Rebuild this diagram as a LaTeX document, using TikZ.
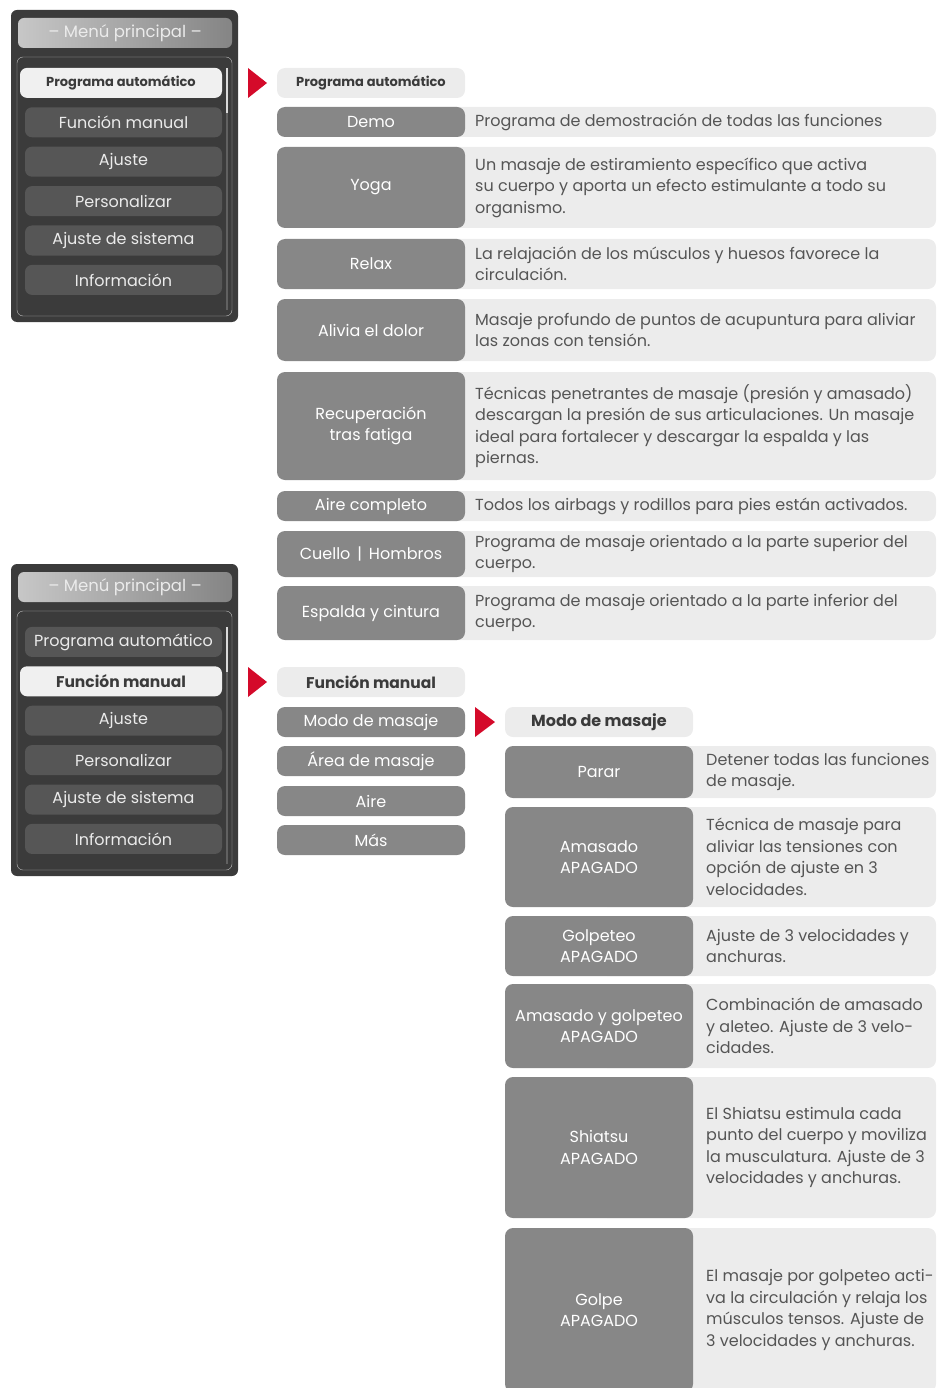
\documentclass[tikz,border=0pt]{standalone}
\usepackage{fontspec}
\setmainfont{Poppins}
\usepackage{xcolor}
\usepackage{tikz}
\usetikzlibrary{calc}
\definecolor{panelgray}{RGB}{59,59,59}
\definecolor{itemgray}{RGB}{86,86,86}
\definecolor{btngray}{RGB}{135,135,135}
\definecolor{descgray}{RGB}{236,236,236}
\definecolor{textgray}{RGB}{85,85,85}
\definecolor{markred}{RGB}{212,10,42}

% one row: name, x of button centre, x of text, y centre, height, button label, description
\newcommand{\descrow}[7]{%
  \fill[desc] (#2,#4-#5/2) rectangle (936,#4+#5/2);
  \node[btn, minimum height=#5] (#1) at (#2,#4) {#6};
  \node[desctext] (#1-txt) at (#3,#4) {#7};
}

\begin{document}
\begin{tikzpicture}[x=1pt, y=-1pt,
    font=\fontsize{16}{21.5}\selectfont,
    menuitem/.style={fill=itemgray, rounded corners=7pt, text=white!92!black, minimum width=197pt, minimum height=30pt, inner sep=0pt},
    menusel/.style={menuitem, fill=white!94!black, text=textgray!70!black, minimum width=202pt},
    menuhead/.style={rounded corners=6pt, left color=black!22, right color=black!48, text=white!92!black, minimum width=214pt, minimum height=30pt, inner sep=0pt, font=\fontsize{16.5}{20}\selectfont},
    btn/.style={fill=btngray, rounded corners=8pt, text=white, minimum width=188pt, inner sep=0pt, align=center},
    colhead/.style={fill=descgray, rounded corners=8pt, text=textgray!70!black, minimum width=188pt, minimum height=30pt, inner sep=0pt},
    desc/.style={fill=descgray, rounded corners=8pt},
    desctext/.style={anchor=west, align=left, text=textgray, inner sep=0pt}]
  \useasboundingbox (0,0) rectangle (937,1388);
  \clip (0,0) rectangle (937,1388);

  % Main menu panels
  \foreach \pn/\off/\ioff in {pa/0/0, pb/554/559} {
    \fill[panelgray, rounded corners=6pt] (11,10+\off) rectangle (238,322+\off);
    \node[menuhead] (\pn-head) at (125,33+\off) {-- Menú principal --};
    \draw[white!75!black, rounded corners=6pt] (17,57+\off) rectangle (232,316+\off);
    \draw[line width=2.5pt, black!62] (227,68+\ioff) -- (227,310+\off);
    \draw[line width=2.5pt, white!85!black] (227,68+\ioff) -- (227,113+\ioff);
  }
  \foreach \pn/\ioff/\i/\lab in {pa/0/2/Función manual, pa/0/3/Ajuste, pa/0/4/Personalizar,
                                 pa/0/5/Ajuste de sistema, pa/0/6/Información,
                                 pb/559/1/Programa automático, pb/559/3/Ajuste, pb/559/4/Personalizar,
                                 pb/559/5/Ajuste de sistema, pb/559/6/Información}
    \node[menuitem] (\pn-\i) at (123.5,43.5+39.4*\i+\ioff) {\lab};
  % selected entries
  \node[menusel, font=\fontsize{13}{18}\selectfont\bfseries] (pa-1) at (121,82.9) {Programa automático};
  \node[menusel, font=\fontsize{15.5}{18}\selectfont\bfseries] (pb-2) at (121,681.3) {Función manual};

  % Red markers
  \fill[markred] (248,68) -- (267,83) -- (248,98) -- cycle;
  \fill[markred] (248,667) -- (267,682) -- (248,697) -- cycle;
  \fill[markred] (475,707) -- (495,722) -- (475,737) -- cycle;

  % Automatic programs
  \node[colhead, font=\fontsize{13}{18}\selectfont\bfseries] (auto-head) at (371,83) {Programa automático};
  \descrow{demo}{371}{475}{122}{30}{Demo}{Programa de demostración de todas las funciones}
  \descrow{yoga}{371}{475}{187.5}{81}{Yoga}{Un masaje de estiramiento específico que activa\\su cuerpo y aporta un efecto estimulante a todo su\\organismo.}
  \descrow{relax}{371}{475}{264}{50}{Relax}{La relajación de los músculos y huesos favorece la\\circulación.}
  \descrow{dolor}{371}{475}{330}{62}{Alivia el dolor}{Masaje profundo de puntos de acupuntura para aliviar\\las zonas con tensión.}
  \descrow{fatiga}{371}{475}{426}{108}{Recuperación\\tras fatiga}{Técnicas penetrantes de masaje (presión y amasado)\\descargan la presión de sus articulaciones. Un masaje\\ideal para fortalecer y descargar la espalda y las\\piernas.}
  \descrow{aire}{371}{475}{506}{30}{Aire completo}{Todos los airbags y rodillos para pies están activados.}
  \descrow{cuello}{371}{475}{554}{46}{Cuello \,|\, Hombros}{Programa de masaje orientado a la parte superior del\\cuerpo.}
  \descrow{espalda}{371}{475}{613}{54}{Espalda y cintura}{Programa de masaje orientado a la parte inferior del\\cuerpo.}

  % Manual functions
  \node[colhead, font=\fontsize{15.5}{18}\selectfont\bfseries] (man-head) at (371,682) {Función manual};
  \foreach \n/\yc/\lab in {modo/722/Modo de masaje, area/761/Área de masaje, airebtn/801/Aire, mas/840/Más}
    \node[btn, minimum height=30pt] (\n) at (371,\yc) {\lab};

  % Massage modes
  \node[colhead, font=\fontsize{16}{18}\selectfont\bfseries] (modo-head) at (599,722) {Modo de masaje};
  \descrow{parar}{599}{706}{772}{52}{Parar}{Detener todas las funciones\\de masaje.}
  \descrow{amasado}{599}{706}{857}{100}{Amasado\\APAGADO}{Técnica de masaje para\\aliviar las tensiones con\\opción de ajuste en 3\\velocidades.}
  \descrow{golpeteo}{599}{706}{946}{60}{Golpeteo\\APAGADO}{Ajuste de 3 velocidades y\\anchuras.}
  \descrow{combi}{599}{706}{1026}{84}{Amasado y golpeteo\\APAGADO}{Combinación de amasado\\y aleteo. Ajuste de 3 velo-\\cidades.}
  \descrow{shiatsu}{599}{706}{1147.5}{141}{Shiatsu\\APAGADO}{El Shiatsu estimula cada\\punto del cuerpo y moviliza\\la musculatura. Ajuste de 3\\velocidades y anchuras.}
  \descrow{golpe}{599}{706}{1310}{164}{Golpe\\APAGADO}{El masaje por golpeteo acti-\\va la circulación y relaja los\\músculos tensos. Ajuste de\\3 velocidades y anchuras.}
\end{tikzpicture}
\end{document}
